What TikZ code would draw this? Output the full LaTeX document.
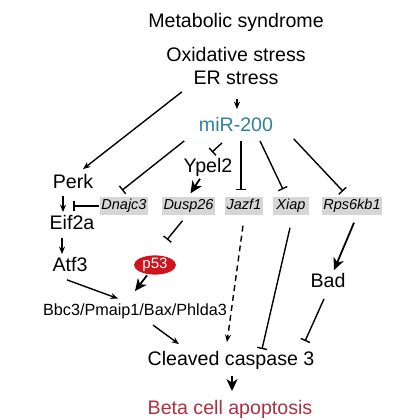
\documentclass[tikz,border=0pt]{standalone}
\usepackage{fontspec}
\setmainfont{Liberation Sans}
\usepackage{tikz}
\usetikzlibrary{arrows,arrows.meta,shapes.geometric,positioning}
\definecolor{mirblue}{RGB}{47,127,160}
\definecolor{pred}{RGB}{208,20,30}
\definecolor{apored}{RGB}{176,48,64}
\definecolor{genegray}{RGB}{214,214,214}

\begin{document}
\begin{tikzpicture}[x=1pt,y=-1pt,->,>={Stealth[length=7.5pt,width=6pt]},line width=1.4pt,
                inner sep=2pt,
                lbl/.style={font=\fontsize{19.6}{22}\selectfont,anchor=base},
                gene/.style={fill=genegray,font=\fontsize{14.5}{16}\selectfont\itshape,
                  text height=10.5pt,text depth=3pt,inner xsep=1.5pt,inner ysep=2.25pt},
                inh/.style={-{Bar[width=10pt]}},
                big/.style={-{Stealth[length=12pt,width=11pt,inset=3.5pt]},line width=1.8pt}]
            \useasboundingbox (0,0) rectangle (420,420);
            % top of the pathway
            \node [lbl]                  (ms)     at (236,28)  {Metabolic syndrome};
            \node [lbl]                  (ox)     at (236,62)  {Oxidative stress};
            \node [lbl]                  (er)     at (236,84)  {ER stress};
            \node [lbl,text=mirblue]     (miR)    at (236,131) {miR-200};
            \node [lbl]                  (perk)   at (73,188)  {Perk};
            \node [lbl]                  (ypel)   at (208,172) {Ypel2};
            % miR-200 targets
            \node [gene]                 (dnajc3) at (124,206) {Dnajc3};
            \node [gene]                 (dusp26) at (188.5,206) {Dusp26};
            \node [gene]                 (jazf1)  at (244,206) {Jazf1};
            \node [gene,minimum width=36pt] (xiap) at (291,206) {Xiap};
            \node [gene]                 (rps)    at (352,206) {Rps6kb1};
            % lower part
            \node [lbl]                  (eif2a)  at (72,229)  {Eif2a};
            \node [lbl]                  (atf3)   at (70,271)  {Atf3};
            \node [ellipse,fill=pred,text=white,font=\fontsize{15}{16}\selectfont,
                   minimum width=42pt,minimum height=19pt,inner sep=0pt] (p53) at (155,265) {p53};
            \node [anchor=base,font=\fontsize{16.2}{18}\selectfont] (bbc3) at (135,315) {Bbc3/Pmaip1/Bax/Phlda3};
            \node [lbl]                  (bad)    at (328,287) {Bad};
            \node [lbl]                  (casp)   at (231,365) {Cleaved caspase 3};
            \node [lbl,text=apored]      (apop)   at (230,414) {Beta cell apoptosis};

            \path ([shift={(1,12)}]er.south) edge ([shift={(1,-5)}]miR.north)
                  ([shift={(-9,5)}]er.south west) edge ([shift={(10,-2)}]perk.north)
                  ([shift={(-12,7)}]miR.south west) edge [inh] ([shift={(-2,-6)}]dnajc3.north)
                  ([shift={(-14,9)}]miR.south) edge [inh] ([shift={(4,-3)}]ypel.north)
                  ([shift={(5,7)}]miR.south) edge [inh] ([shift={(-3,-6)}]jazf1.north)
                  ([shift={(24,7)}]miR.south) edge [inh] ([shift={(-8,-7)}]xiap.north)
                  ([shift={(18,5)}]miR.south east) edge [inh] ([shift={(-9,-5)}]rps.north)
                  ([shift={(-8,0)}]ypel.south) edge [big] ([shift={(2,-3)}]dusp26.north);
            \path ([shift={(-10,5)}]perk.south) edge ([shift={(-9,0)}]eif2a.north)
                  (dnajc3.west) edge [inh] ++(-26,0)
                  ([shift={(-10,6)}]eif2a.south) edge ([shift={(-8,0)}]atf3.north)
                  ([shift={(-6,5)}]dusp26.south) edge [inh] ([shift={(12,-15)}]p53.north)
                  ([shift={(-8,0)}]p53.south) edge [big] ([shift={(0,-9.5)}]bbc3.north)
                  ([shift={(-3,6)}]atf3.south) edge ([shift={(-17,-2)}]bbc3.north)
                  ([shift={(18,4)}]bbc3.south) edge ([shift={(-52,-4)}]casp.north)
                  ([shift={(-1,10)}]jazf1.south) edge [dash pattern=on 6pt off 4pt] ([shift={(-4,-6)}]casp.north)
                  ([shift={(-1,12)}]xiap.south) edge [inh] ([shift={(31,1)}]casp.north)
                  ([shift={(2,7)}]rps.south) edge [big] ([shift={(6,0)}]bad.north)
                  ([shift={(-4,9)}]bad.south) edge [inh] ([shift={(-12,-7)}]casp.north east)
                  ([shift={(1,4)}]casp.south) edge [big] ([shift={(2,-6)}]apop.north);
        \end{tikzpicture}
\end{document}
